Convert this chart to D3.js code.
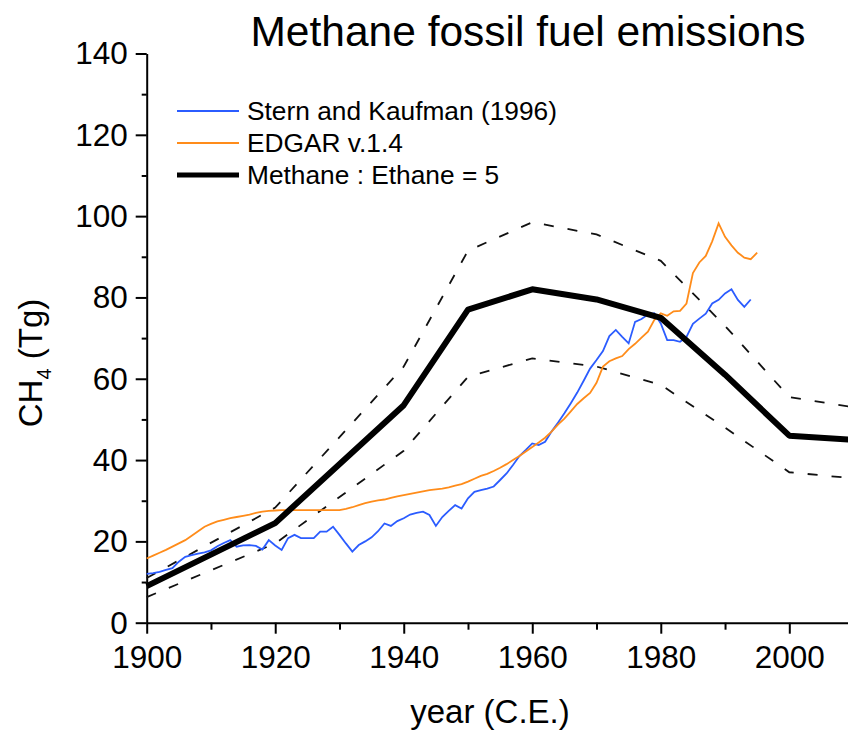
<!DOCTYPE html>
<html>
<head>
<meta charset="utf-8">
<script src="https://cdn.jsdelivr.net/npm/d3@7"></script>
<style>
  body { margin: 0; background: #fff; }
  svg { display: block; font-family: "Liberation Sans", Arial, sans-serif; }
</style>
</head>
<body>
<div id="chart"></div>
<script>
// Stern and Kaufman (1996), annual from 1900
var sk_start = 1900;
var sk_values = [12, 12.2, 12.5, 13, 13.4, 15, 16.2, 16.6, 17, 17.3,
  17.8, 18.8, 19.6, 20.3, 18.7, 19, 19.1, 18.9, 18, 20.3,
  19, 17.9, 20.8, 21.6, 20.8, 20.8, 20.8, 22.4, 22.4, 23.6,
  21.6, 19.5, 17.5, 19.1, 20, 21, 22.5, 24.4, 23.8, 25,
  25.7, 26.6, 27, 27.3, 26.5, 23.8, 26, 27.5, 28.9, 28.1,
  30.6, 32.2, 32.6, 33, 33.5, 35.1, 36.7, 38.8, 41, 42.5,
  44.1, 43.7, 44.5, 47, 49.2, 51.5, 54, 56.6, 59.5, 62.5,
  64.6, 66.8, 70.5, 72, 70.3, 68.7, 74, 74.7, 75.8, 76.1,
  73.6, 69.5, 69.5, 69.1, 70.3, 73.5, 74.8, 76, 78.5, 79.4,
  81, 82, 79.4, 77.7, 79.5];

// EDGAR v.1.4, annual from 1900
var edgar_start = 1900;
var edgar_values = [15.8, 16.5, 17.2, 17.9, 18.7, 19.5, 20.3, 21.4, 22.5, 23.6,
  24.3, 24.9, 25.3, 25.7, 26, 26.3, 26.6, 27, 27.3, 27.5,
  27.6, 27.7, 27.7, 27.7, 27.7, 27.7, 27.7, 27.7, 27.7, 27.7,
  27.7, 28, 28.4, 28.9, 29.4, 29.8, 30.1, 30.3, 30.7, 31.1,
  31.4, 31.7, 32, 32.3, 32.6, 32.8, 33, 33.3, 33.7, 34.1,
  34.7, 35.4, 36.1, 36.6, 37.3, 38.1, 39, 40, 41, 42.1,
  43.2, 44.3, 45.5, 47, 48.7, 50.2, 52, 53.8, 55.2, 56.5,
  59, 63, 64.3, 65, 65.6, 67.3, 68.6, 70.1, 71.6, 74.5,
  76.1, 75.5, 76.6, 76.7, 78.5, 86, 88.6, 90.2, 93.8, 98.2,
  94.9, 92.8, 91, 89.8, 89.4, 91];

// Methane : Ethane = 5 estimate and its range
var me_years = [1900, 1920, 1940, 1950, 1960, 1970, 1980, 1990, 2000, 2010];
var me_values = [9, 24.5, 53.5, 77, 82, 79.5, 75, 61, 46, 45];
var me_upper = [11, 28.3, 63, 91.5, 98.5, 95.5, 89, 73, 55.5, 53];
var me_lower = [6.3, 19.5, 42.3, 60.5, 65, 63, 58.5, 48, 37, 35.5];

var y_ticks = [0, 20, 40, 60, 80, 100, 120, 140];
var x_ticks = [1900, 1920, 1940, 1960, 1980, 2000];
var legend_labels = ["Stern and Kaufman (1996)", "EDGAR v.1.4", "Methane : Ethane = 5"];

var w = 848, h = 732;

var svg = d3.select("#chart").append("svg")
    .attr("width", w)
    .attr("height", h);

var x = d3.scaleLinear().domain([1900, 2010]).range([146.7, 146.7 + 110 * 6.426]);
var y = d3.scaleLinear().domain([0, 140]).range([622.7, 53.5]);

// minor ticks first
svg.append("g")
    .attr("transform", "translate(0," + y(0) + ")")
    .call(d3.axisBottom(x).tickValues([1910, 1930, 1950, 1970, 1990, 2010]).tickSize(7).tickFormat(""))
    .call(function(g) { g.select(".domain").remove(); });
svg.append("g")
    .attr("transform", "translate(" + x(1900) + ",0)")
    .call(d3.axisLeft(y).tickValues([10, 30, 50, 70, 90, 110, 130]).tickSize(5).tickFormat(""))
    .call(function(g) { g.select(".domain").remove(); });

// main axes
var x_axis = svg.append("g")
    .attr("transform", "translate(0," + y(0) + ")")
    .call(d3.axisBottom(x).tickValues(x_ticks).tickSize(11).tickSizeOuter(0).tickPadding(12).tickFormat(d3.format("d")));
var y_axis = svg.append("g")
    .attr("transform", "translate(" + x(1900) + ",0)")
    .call(d3.axisLeft(y).tickValues(y_ticks).tickSize(11).tickSizeOuter(0).tickPadding(8));

svg.selectAll(".tick line, .domain")
    .attr("stroke", "#000")
    .attr("stroke-width", 2);
x_axis.selectAll(".tick text")
    .attr("fill", "#000")
    .style("font-size", "31.5px");
y_axis.selectAll(".tick text")
    .attr("fill", "#000")
    .attr("dy", "0.33em")
    .style("font-size", "31.5px");

// lines
var line = d3.line()
    .x(function(d) { return x(d[0]); })
    .y(function(d) { return y(d[1]); });

function pairs(xs, vs) {
    return vs.map(function(v, i) { return [xs[i], v]; });
}
function annual(start, vs) {
    return vs.map(function(v, i) { return [start + i, v]; });
}

svg.append("path")
    .datum(pairs(me_years, me_upper))
    .attr("d", line)
    .attr("fill", "none")
    .attr("stroke", "#111")
    .attr("stroke-width", 1.8)
    .attr("stroke-dasharray", "10,14");
svg.append("path")
    .datum(pairs(me_years, me_lower))
    .attr("d", line)
    .attr("fill", "none")
    .attr("stroke", "#111")
    .attr("stroke-width", 1.8)
    .attr("stroke-dasharray", "10,14");

svg.append("path")
    .datum(annual(sk_start, sk_values))
    .attr("d", line)
    .attr("fill", "none")
    .attr("stroke", "#2b5cff")
    .attr("stroke-width", 1.8);
svg.append("path")
    .datum(annual(edgar_start, edgar_values))
    .attr("d", line)
    .attr("fill", "none")
    .attr("stroke", "#ff8c1a")
    .attr("stroke-width", 1.8);

svg.append("path")
    .datum(pairs(me_years, me_values))
    .attr("d", line)
    .attr("fill", "none")
    .attr("stroke", "#000")
    .attr("stroke-width", 6)
    .attr("stroke-linejoin", "round");

// legend
var legend_colors = ["#2b5cff", "#ff8c1a", "#000"];
var legend_widths = [1.8, 1.8, 5];
var legend = svg.selectAll(".legend")
    .data(legend_labels)
    .enter().append("g")
    .attr("class", "legend")
    .attr("transform", function(d, i) { return "translate(0," + (111 + i * 32) + ")"; });
legend.append("line")
    .attr("x1", 177).attr("x2", 239)
    .attr("stroke", function(d, i) { return legend_colors[i]; })
    .attr("stroke-width", function(d, i) { return legend_widths[i]; });
legend.append("text")
    .attr("x", 247)
    .attr("y", 9)
    .style("font-size", "26.3px")
    .text(function(d) { return d; });

// titles
svg.append("text")
    .attr("x", 528)
    .attr("y", 46)
    .attr("text-anchor", "middle")
    .style("font-size", "42.5px")
    .text("Methane fossil fuel emissions");

svg.append("text")
    .attr("x", 490)
    .attr("y", 723)
    .attr("text-anchor", "middle")
    .style("font-size", "33px")
    .text("year (C.E.)");

var ylab = svg.append("text")
    .attr("transform", "translate(42,363) rotate(-90)")
    .attr("text-anchor", "middle")
    .style("font-size", "33px");
ylab.append("tspan").text("CH");
ylab.append("tspan").attr("dy", 9).style("font-size", "20px").text("4");
ylab.append("tspan").attr("dy", -9).text(" (Tg)");
</script>
</body>
</html>
